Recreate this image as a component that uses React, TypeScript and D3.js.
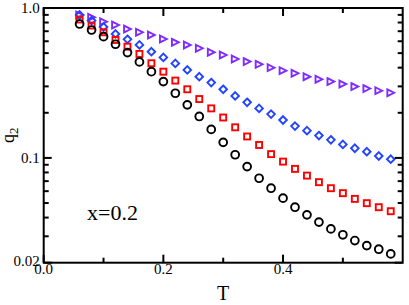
import { useEffect, useRef } from "react";
import * as d3 from "d3";

// temperatures (shared by all four series)
const temps = [
  0.06, 0.08, 0.1, 0.12, 0.14, 0.16, 0.18, 0.2, 0.22, 0.24, 0.26, 0.28, 0.3, 0.32,
  0.34, 0.36, 0.38, 0.4, 0.42, 0.44, 0.46, 0.48, 0.5, 0.52, 0.54, 0.56, 0.58,
];

// q2 values
const circles = [
  0.782, 0.713, 0.644, 0.573, 0.504, 0.437, 0.376, 0.323, 0.27, 0.226, 0.189, 0.155,
  0.127, 0.105, 0.0875, 0.0732, 0.0628, 0.0539, 0.0469, 0.0417, 0.0373, 0.0336,
  0.0307, 0.0281, 0.026, 0.0246, 0.0229,
];
const squares = [
  0.838, 0.764, 0.689, 0.612, 0.552, 0.494, 0.428, 0.376, 0.328, 0.287, 0.247, 0.214,
  0.186, 0.16, 0.139, 0.122, 0.106, 0.0945, 0.0845, 0.0762, 0.0689, 0.0628, 0.0582,
  0.0533, 0.0499, 0.0469, 0.0441,
];
const diamonds = [
  0.898, 0.825, 0.747, 0.671, 0.618, 0.567, 0.511, 0.468, 0.427, 0.386, 0.348, 0.318,
  0.287, 0.259, 0.235, 0.214, 0.196, 0.179, 0.163, 0.152, 0.141, 0.132, 0.123, 0.116,
  0.11, 0.103, 0.098,
];
const triangles = [
  0.898, 0.867, 0.81, 0.77, 0.724, 0.689, 0.661, 0.621, 0.59, 0.567, 0.539, 0.507,
  0.486, 0.457, 0.439, 0.421, 0.4, 0.382, 0.367, 0.348, 0.335, 0.323, 0.311, 0.299,
  0.29, 0.281, 0.272,
];

const xMajor = [0, 0.2, 0.4];
const xMinor = [0.1, 0.3, 0.5];
const yMajor = [1.0, 0.1, 0.02];
const yMinor = [0.9, 0.8, 0.7, 0.6, 0.5, 0.4, 0.3, 0.2, 0.09, 0.08, 0.07, 0.06, 0.05, 0.04, 0.03];
const yLabels = ["1.0", "0.1", "0.02"];

function App() {
  const svgRef = useRef(null);

  useEffect(() => {
    const svg = d3.select(svgRef.current);
    svg.selectAll("*").remove();

    const left = 43.7, right = 402.7, top = 8, bottom = 262.7;
    const font = "'Liberation Serif', 'DejaVu Serif', serif";

    const x = d3.scaleLinear().domain([0, 0.6]).range([left, right]);
    const y = d3.scaleLog().domain([0.02, 1]).range([bottom, top]);

    const g = svg.append("g");

    // markers
    const drawSeries = (vals, shape, color) => {
      const sel = g.append("g")
        .attr("fill", "none")
        .attr("stroke", color)
        .attr("stroke-width", 1.9);
      vals.forEach((v, i) => {
        const cx = x(temps[i]);
        const cy = y(v);
        if (shape === "circle") {
          sel.append("circle").attr("cx", cx).attr("cy", cy).attr("r", 3.9);
        } else if (shape === "square") {
          sel.append("rect").attr("x", cx - 3).attr("y", cy - 3).attr("width", 6).attr("height", 6);
        } else if (shape === "diamond") {
          const s = 3.8;
          sel.append("path").attr("d", `M${cx},${cy - s}L${cx + s},${cy}L${cx},${cy + s}L${cx - s},${cy}Z`);
        } else {
          const s = 3.4;
          sel.append("path").attr("d", `M${cx - s},${cy - s}L${cx + s},${cy}L${cx - s},${cy + s}Z`);
        }
      });
    };

    drawSeries(triangles, "triangle", "#7f2bff");
    drawSeries(diamonds, "diamond", "#2244ff");
    drawSeries(squares, "square", "#ff0000");
    drawSeries(circles, "circle", "#000000");

    // frame
    g.append("rect")
      .attr("x", left).attr("y", top)
      .attr("width", right - left).attr("height", bottom - top)
      .attr("fill", "none").attr("stroke", "#000").attr("stroke-width", 2);

    const ticks = g.append("g").attr("stroke", "#000").attr("stroke-width", 2);
    const major = 8, minor = 5;
    xMajor.concat(xMinor).forEach((t) => {
      const len = xMajor.includes(t) ? major : minor;
      ticks.append("line").attr("x1", x(t)).attr("x2", x(t)).attr("y1", bottom).attr("y2", bottom - len);
      ticks.append("line").attr("x1", x(t)).attr("x2", x(t)).attr("y1", top).attr("y2", top + len);
    });
    yMajor.concat(yMinor).forEach((t) => {
      const len = yMajor.includes(t) ? major : minor;
      ticks.append("line").attr("x1", left).attr("x2", left + len).attr("y1", y(t)).attr("y2", y(t));
      ticks.append("line").attr("x1", right).attr("x2", right - len).attr("y1", y(t)).attr("y2", y(t));
    });

    // tick labels
    xMajor.forEach((t) => {
      g.append("text")
        .attr("x", x(t)).attr("y", bottom + 11)
        .attr("text-anchor", "middle")
        .attr("font-family", font).attr("font-size", 15)
        .text(d3.format(".1f")(t));
    });
    yMajor.forEach((t, i) => {
      g.append("text")
        .attr("x", left - 4).attr("y", y(t) + (i === 2 ? 3.5 : 5))
        .attr("text-anchor", "end")
        .attr("font-family", font).attr("font-size", 15)
        .text(yLabels[i]);
    });

    // axis titles
    g.append("text")
      .attr("x", 223).attr("y", 300)
      .attr("text-anchor", "middle")
      .attr("font-family", font).attr("font-size", 20)
      .text("T");

    const q = g.append("text")
      .attr("transform", `translate(14,${(top + bottom) / 2}) rotate(-90)`)
      .attr("text-anchor", "middle")
      .attr("font-family", font).attr("font-size", 18);
    q.append("tspan").text("q");
    q.append("tspan").attr("dy", 4).attr("font-size", 13).text("2");

    g.append("text")
      .attr("x", 87).attr("y", 220)
      .attr("font-family", font).attr("font-size", 22)
      .text("x=0.2");
  }, []);

  return (
    <svg
      ref={svgRef}
      width={409}
      height={305}
      style={{ position: "absolute", left: 0, top: 0, background: "#fff" }}
    />
  );
}

export default App;
